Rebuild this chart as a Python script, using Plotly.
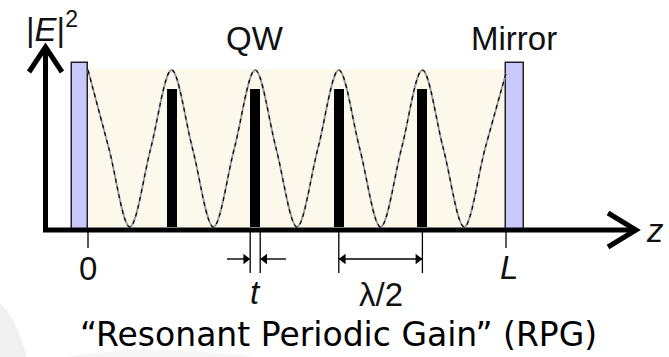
import plotly.graph_objects as go

# ---- data (z in units of lambda/2, L = 5; intensity normalised) ----
wave_z = [0, 0.25, 0.5, 0.75, 1, 1.25, 1.5, 1.75, 2, 2.25, 2.5, 2.75, 3,
          3.25, 3.5, 3.75, 4, 4.25, 4.5, 4.75, 5]
wave_e = [1, 0.5, 0, 0.5, 1, 0.5, 0, 0.5, 1, 0.5, 0, 0.5, 1,
          0.5, 0, 0.5, 1, 0.5, 0, 0.5, 0.98]
qw_z = [1, 2, 3, 4]
qw_h = [0.88, 0.88, 0.88, 0.88]
qw_t = 0.12
mirror_z = [-0.095, 5.105]
mirror_w = [0.19, 0.21]
mirror_h = 1.065
L_val = 5
tick_labels = ["0", "L"]

# pixel frame mapping (data ranges chosen so the figure fills 669x357)
PX_X = 83.6   # px per unit z
PX_Y = 157.0  # px per unit intensity
x0_px, y0_px = 88, 227
W, H = 669, 357
xr = [(0 - x0_px) / PX_X, (W - x0_px) / PX_X]
yr = [(y0_px - H) / PX_Y, (y0_px - 0) / PX_Y]

def zx(px):
    return (px - x0_px) / PX_X

def vy(py):
    return (y0_px - py) / PX_Y

fig = go.Figure()

# beige cavity region
fig.add_shape(type="rect", xref="x", yref="y", x0=0, x1=L_val, y0=0, y1=1.006,
              fillcolor="#fdf8ec", line=dict(width=0), layer="below")

# faint grey slide artefacts at the bottom-left
fig.add_shape(type="path", xref="paper", yref="paper",
              path="M 0 0 L 0 0.15 Q 0.025 0.11 0.04 0.0 Z",
              fillcolor="rgba(215,215,215,0.35)", line=dict(width=0))
fig.add_shape(type="path", xref="paper", yref="paper",
              path="M 0.1 0 Q 0.22 0.04 0.38 0.0 Z",
              fillcolor="rgba(225,225,225,0.3)", line=dict(width=0))

# mirrors
fig.add_trace(go.Bar(x=mirror_z, y=[mirror_h, mirror_h], base=[-0.02, -0.02],
                     width=mirror_w, marker=dict(color="#c8c8fc",
                     line=dict(color="#222", width=1.5)), showlegend=False,
                     hoverinfo="skip"))
# quantum wells
fig.add_trace(go.Bar(x=qw_z, y=qw_h, base=0, width=qw_t,
                     marker=dict(color="black", line=dict(width=0)),
                     showlegend=False, hoverinfo="skip"))

# standing wave |E|^2
fig.add_trace(go.Scatter(x=wave_z, y=wave_e, mode="lines",
                         line=dict(color="#9a9a9a", width=1.8, shape="spline", smoothing=1.0),
                         showlegend=False, hoverinfo="skip"))
fig.add_trace(go.Scatter(x=wave_z, y=wave_e, mode="lines",
                         line=dict(color="black", width=1.2, shape="spline", smoothing=1.0,
                                   dash="4px,4px"),
                         showlegend=False, hoverinfo="skip"))

# axes (thick arrows)
zy = zx(45.5)
vaxis = vy(230)
ztip = zx(634)
fig.add_trace(go.Scatter(x=[zy, zy, ztip], y=[vy(50), vaxis, vaxis], mode="lines",
                         line=dict(color="black", width=5), showlegend=False,
                         hoverinfo="skip"))
fig.add_trace(go.Scatter(x=[zx(29), zy, zx(62)], y=[vy(72), vy(47), vy(72)], mode="lines",
                         line=dict(color="black", width=5), showlegend=False,
                         hoverinfo="skip"))
fig.add_trace(go.Scatter(x=[zx(608), zx(636), zx(608)], y=[vy(213), vaxis, vy(247)],
                         mode="lines", line=dict(color="black", width=5),
                         showlegend=False, hoverinfo="skip"))

# tick / dimension lines
tx = [0, 0, None, L_val, L_val, None,
      qw_z[1] - qw_t / 2, qw_z[1] - qw_t / 2, None, qw_z[1] + qw_t / 2, qw_z[1] + qw_t / 2, None,
      qw_z[2], qw_z[2], None, qw_z[3], qw_z[3]]
ty = [vy(232), vy(248), None, vy(232), vy(248), None,
      vy(232), vy(273), None, vy(232), vy(273), None,
      vy(232), vy(273), None, vy(232), vy(273)]
fig.add_trace(go.Scatter(x=tx, y=ty, mode="lines", line=dict(color="black", width=1.3),
                         showlegend=False, hoverinfo="skip"))

# dimension arrows (lines + triangular heads)
va = vy(259)
head = 4.5 / PX_X
zl, zr = qw_z[1] - qw_t / 2, qw_z[1] + qw_t / 2
fig.add_trace(go.Scatter(x=[zx(227), zl - 1 / PX_X, None, zr + 1 / PX_X, zx(286), None,
                            qw_z[2], qw_z[3]],
                         y=[va, va, None, va, va, None, va, va], mode="lines",
                         line=dict(color="black", width=1.4), showlegend=False,
                         hoverinfo="skip"))
fig.add_trace(go.Scatter(x=[zl - head, zr + head, qw_z[2] + head, qw_z[3] - head],
                         y=[va, va, va, va], mode="markers",
                         marker=dict(symbol=["triangle-right", "triangle-left",
                                             "triangle-left", "triangle-right"],
                                     size=9, color="black", line=dict(width=0)),
                         showlegend=False, hoverinfo="skip"))

# text labels
lab = dict(xref="x", yref="y", showarrow=False, font=dict(family="Liberation Sans",
           size=33, color="#111"))
fig.add_annotation(x=zx(52), y=vy(27), text="|<i>E</i>|<sup>2</sup>", **lab)
fig.add_annotation(x=zx(255), y=vy(38), text="QW", **lab)
fig.add_annotation(x=zx(514), y=vy(38), text="Mirror", **lab)
fig.add_annotation(x=0, y=vy(268), text=tick_labels[0], **lab)
fig.add_annotation(x=L_val + 0.04, y=vy(267), text="<i>" + tick_labels[1] + "</i>", **lab)
fig.add_annotation(x=qw_z[1], y=vy(292), text="<i>t</i>", **lab)
fig.add_annotation(x=(qw_z[2] + qw_z[3]) / 2, y=vy(294), text="λ/2", **lab)
fig.add_annotation(x=zx(655), y=vy(230), text="<i>z</i>", **lab)

fig.add_annotation(xref="x", yref="y", x=zx(338), y=vy(334), showarrow=False,
                   text="\u201cResonant Periodic Gain\u201d (RPG)",
                   font=dict(family="DejaVu Sans", size=33, color="black"))

fig.update_layout(width=W, height=H, margin=dict(l=0, r=0, t=0, b=0),
                  paper_bgcolor="white", plot_bgcolor="rgba(0,0,0,0)",
                  barmode="overlay", bargap=0,
                  xaxis=dict(range=xr, visible=False, fixedrange=True),
                  yaxis=dict(range=yr, visible=False, fixedrange=True),
                  showlegend=False)

fig.write_html("out.html")
